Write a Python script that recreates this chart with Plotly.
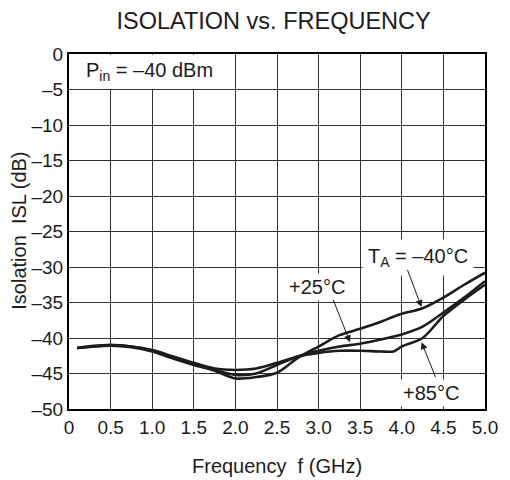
import plotly.graph_objects as go

# ---- data ----
freq_ghz = [0.1, 0.3, 0.5, 0.75, 1.0, 1.25, 1.5, 1.75, 2.0, 2.25, 2.5, 2.75,
            3.0, 3.25, 3.5, 3.75, 3.9, 4.0, 4.25, 4.5, 4.75, 5.0]
isl_m40 = [-41.4, -41.2, -41.1, -41.3, -41.9, -42.9, -43.8, -44.6, -45.7, -45.5, -44.9, -42.8,
           -41.2, -39.6, -38.7, -37.7, -37.0, -36.6, -35.8, -34.3, -32.5, -30.8]
isl_p25 = [-41.4, -41.2, -41.0, -41.2, -41.8, -42.8, -43.7, -44.5, -45.2, -45.0, -43.8, -42.6,
           -41.8, -41.2, -40.8, -40.2, -39.8, -39.5, -38.4, -36.4, -34.3, -32.0]
isl_p85 = [-41.4, -41.1, -41.0, -41.2, -41.7, -42.6, -43.5, -44.3, -44.5, -44.3, -43.5, -42.6,
           -42.1, -41.8, -41.8, -41.9, -41.9, -41.2, -40.0, -36.9, -34.6, -32.5]

x_ticks = [0, 0.5, 1.0, 1.5, 2.0, 2.5, 3.0, 3.5, 4.0, 4.5, 5.0]
x_tick_labels = ["0", "0.5", "1.0", "1.5", "2.0", "2.5", "3.0", "3.5", "4.0", "4.5", "5.0"]
y_ticks = [0, -5, -10, -15, -20, -25, -30, -35, -40, -45, -50]
y_tick_labels = ["0", "–5", "–10", "–15", "–20", "–25", "–30", "–35", "–40", "–45", "–50"]

FONT = "Liberation Sans, Arial, sans-serif"
INK = "#1c1c1c"

fig = go.Figure()
for name, ys in [("-40°C", isl_m40), ("+25°C", isl_p25), ("+85°C", isl_p85)]:
    fig.add_trace(go.Scatter(x=freq_ghz, y=ys, mode="lines", name=name,
                             line=dict(color=INK, width=2.6, shape="spline", smoothing=0.8),
                             showlegend=False, hoverinfo="skip"))

# white box behind the P_in label
fig.add_shape(type="rect", xref="x", yref="y", x0=0.02, x1=1.75, y0=-4.88, y1=-0.12,
              fillcolor="white", line_width=0, layer="above")

ann_font = dict(family=FONT, size=20, color=INK)
texts = [
    ("P<sub>in</sub> = –40 dBm", 0.97, -2.46, 0),
    ("T<sub>A</sub> = –40°C", 4.19, -28.6, 5),
    ("+25°C", 2.98, -32.85, 2),
    ("+85°C", 4.35, -47.7, 2),
]
for t, x, y, pad in texts:
    fig.add_annotation(x=x, y=y, xref="x", yref="y", text=t, showarrow=False,
                       font=ann_font, bgcolor="white" if pad else None, borderpad=pad,
                       xanchor="center", yanchor="middle")

arrows = [
    ((4.061, -30.19), (4.237, -35.65)),
    ((3.169, -34.42), (3.377, -40.59)),
    ((4.413, -45.72), (4.237, -40.59)),
]
for (tx, ty), (hx, hy) in arrows:
    fig.add_annotation(x=hx, y=hy, ax=tx, ay=ty, xref="x", yref="y", axref="x", ayref="y",
                       text="", showarrow=True, arrowhead=2, arrowsize=1.4, arrowwidth=1,
                       arrowcolor=INK, standoff=0)

# axis titles
fig.add_annotation(x=(282 - 69) / 426, y=-(466 - 409) / 355, xref="paper", yref="paper",
                   text="Frequency  f (GHz)", showarrow=False, font=ann_font,
                   xanchor="center", yanchor="middle")
fig.add_annotation(x=-(69 - 17.5) / 426, y=(409 - 231) / 355, xref="paper", yref="paper",
                   text="Isolation  ISL (dB)", showarrow=False, font=ann_font, textangle=-90,
                   xanchor="center", yanchor="middle")

# page has an 8px body margin, so the figure is 8px smaller than the window
W, H = 502, 472
fig.update_layout(
    width=W, height=H,
    margin=dict(l=61, r=15, t=46, b=71),
    paper_bgcolor="white", plot_bgcolor="white",
    font=dict(family=FONT, color=INK),
    title=dict(text="ISOLATION vs. FREQUENCY", font=dict(family=FONT, size=23.5, color=INK),
               x=(278.5 - 69) / 426, xref="paper", xanchor="center",
               y=1 - 13 / H, yref="container", yanchor="middle"),
)
fig.update_xaxes(range=[0, 5], tickvals=x_ticks, ticktext=x_tick_labels,
                 showgrid=True, gridcolor="#333333", gridwidth=1,
                 showline=True, linecolor="black", linewidth=2, mirror=True,
                 ticks="", tickfont=dict(family=FONT, size=19, color=INK),
                 zeroline=False, fixedrange=True)
fig.update_yaxes(range=[-50, 0], tickvals=y_ticks, ticktext=y_tick_labels,
                 showgrid=True, gridcolor="#333333", gridwidth=1,
                 showline=True, linecolor="black", linewidth=2, mirror=True,
                 ticks="", tickfont=dict(family=FONT, size=19, color=INK),
                 zeroline=False, fixedrange=True)

fig.write_html("out.html")
